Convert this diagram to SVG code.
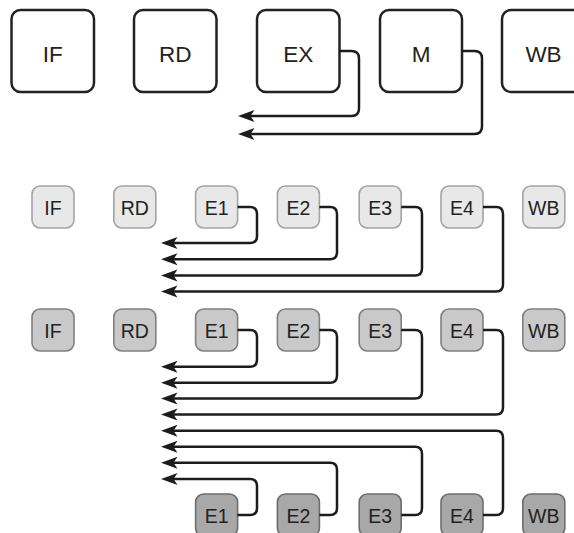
<svg xmlns="http://www.w3.org/2000/svg" width="574" height="533" viewBox="0 0 574 533">
<style>
  .big rect{fill:#fff;stroke:#222;stroke-width:2.5}
  .big text{font-family:"Liberation Sans",Arial,sans-serif;font-size:22.5px;fill:#222;text-anchor:middle}
  .sm text{font-family:"Liberation Sans",Arial,sans-serif;font-size:19.5px;fill:#222;text-anchor:middle}
  .r2 rect{fill:#e8e8e8;stroke:#a4a4a4;stroke-width:1.6}
  .r3 rect{fill:#c9c9c9;stroke:#808080;stroke-width:1.6}
  .r4 rect{fill:#a8a8a8;stroke:#6e6e6e;stroke-width:1.6}
  #connectors path{fill:none;stroke:#1c1c1c;stroke-width:2.5;marker-end:url(#arr)}
</style>
<defs>
  <marker id="arr" markerUnits="userSpaceOnUse" viewBox="-18 -7 19 14" refX="-9" refY="0" markerWidth="19" markerHeight="14" orient="auto">
    <path d="M0,0 L-16.5,-6 L-12.5,0 L-16.5,6 Z" fill="#1c1c1c"/>
  </marker>
</defs>
<g class="big">
  <g id="top-IF"><rect x="11.5" y="10" width="82.5" height="82" rx="9"/><text x="52.7" y="62">IF</text></g>
  <g id="top-RD"><rect x="134" y="10" width="82.5" height="82" rx="9"/><text x="175.2" y="62">RD</text></g>
  <g id="top-EX"><rect x="257" y="10" width="82.5" height="82" rx="9"/><text x="298.2" y="62">EX</text></g>
  <g id="top-M"><rect x="380" y="10" width="82" height="82" rx="9"/><text x="421" y="62">M</text></g>
  <g id="top-WB"><rect x="502" y="10" width="82.5" height="82" rx="9"/><text x="543.5" y="62">WB</text></g>
</g>
<g class="sm r2">
  <g id="r2-IF"><rect x="32" y="186" width="42" height="42" rx="8"/><text x="53" y="214.5">IF</text></g>
  <g id="r2-RD"><rect x="113.8" y="186" width="42" height="42" rx="8"/><text x="134.8" y="214.5">RD</text></g>
  <g id="r2-E1"><rect x="195.6" y="186" width="42" height="42" rx="8"/><text x="216.6" y="214.5">E1</text></g>
  <g id="r2-E2"><rect x="277.4" y="186" width="42" height="42" rx="8"/><text x="298.4" y="214.5">E2</text></g>
  <g id="r2-E3"><rect x="359.2" y="186" width="42" height="42" rx="8"/><text x="380.2" y="214.5">E3</text></g>
  <g id="r2-E4"><rect x="441" y="186" width="42" height="42" rx="8"/><text x="462" y="214.5">E4</text></g>
  <g id="r2-WB"><rect x="522.8" y="186" width="42" height="42" rx="8"/><text x="543.8" y="214.5">WB</text></g>
</g>
<g class="sm r3">
  <g id="r3-IF"><rect x="32" y="309" width="42" height="42" rx="8"/><text x="53" y="337.5">IF</text></g>
  <g id="r3-RD"><rect x="113.8" y="309" width="42" height="42" rx="8"/><text x="134.8" y="337.5">RD</text></g>
  <g id="r3-E1"><rect x="195.6" y="309" width="42" height="42" rx="8"/><text x="216.6" y="337.5">E1</text></g>
  <g id="r3-E2"><rect x="277.4" y="309" width="42" height="42" rx="8"/><text x="298.4" y="337.5">E2</text></g>
  <g id="r3-E3"><rect x="359.2" y="309" width="42" height="42" rx="8"/><text x="380.2" y="337.5">E3</text></g>
  <g id="r3-E4"><rect x="441" y="309" width="42" height="42" rx="8"/><text x="462" y="337.5">E4</text></g>
  <g id="r3-WB"><rect x="522.8" y="309" width="42" height="42" rx="8"/><text x="543.8" y="337.5">WB</text></g>
</g>
<g class="sm r4">
  <g id="r4-E1"><rect x="195.6" y="494" width="42" height="42" rx="8"/><text x="216.6" y="522.5">E1</text></g>
  <g id="r4-E2"><rect x="277.4" y="494" width="42" height="42" rx="8"/><text x="298.4" y="522.5">E2</text></g>
  <g id="r4-E3"><rect x="359.2" y="494" width="42" height="42" rx="8"/><text x="380.2" y="522.5">E3</text></g>
  <g id="r4-E4"><rect x="441" y="494" width="42" height="42" rx="8"/><text x="462" y="522.5">E4</text></g>
  <g id="r4-WB"><rect x="522.8" y="494" width="42" height="42" rx="8"/><text x="543.8" y="522.5">WB</text></g>
</g>
<g id="connectors">
  <path d="M339.5,51 H351.5 Q359,51 359,58.5 V108.5 Q359,116 351.5,116 H247"/>
  <path d="M462,51 H474.5 Q482,51 482,58.5 V126.5 Q482,134 474.5,134 H247"/>

  <path d="M237.6,207 H250 Q257,207 257,214 V236 Q257,243 250,243 H170"/>
  <path d="M319.4,207 H330 Q337,207 337,214 V252.2 Q337,259.2 330,259.2 H170"/>
  <path d="M401.2,207 H415 Q422,207 422,214 V268.4 Q422,275.4 415,275.4 H170"/>
  <path d="M483,207 H496 Q503,207 503,214 V284.6 Q503,291.6 496,291.6 H170"/>

  <path d="M237.6,330 H250 Q257,330 257,337 V359.7 Q257,366.7 250,366.7 H170"/>
  <path d="M319.4,330 H330 Q337,330 337,337 V375.7 Q337,382.7 330,382.7 H170"/>
  <path d="M401.2,330 H415 Q422,330 422,337 V391.5 Q422,398.5 415,398.5 H170"/>
  <path d="M483,330 H496 Q503,330 503,337 V407.5 Q503,414.5 496,414.5 H170"/>

  <path d="M237.6,515 H250 Q257,515 257,508 V486 Q257,479 250,479 H170"/>
  <path d="M319.4,515 H330 Q337,515 337,508 V469.7 Q337,462.7 330,462.7 H170"/>
  <path d="M401.2,515 H415 Q422,515 422,508 V453.7 Q422,446.7 415,446.7 H170"/>
  <path d="M483,515 H496 Q503,515 503,508 V437.7 Q503,430.7 496,430.7 H170"/>
</g>
</svg>
